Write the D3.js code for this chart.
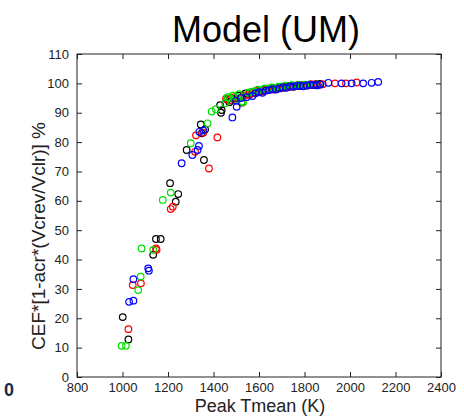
<!DOCTYPE html>
<html><head><meta charset="utf-8">
<script src="https://cdn.jsdelivr.net/npm/d3@7"></script>
<style>body{margin:0;background:#fff}svg{display:block}text{font-family:"Liberation Sans",Arial,sans-serif}</style>
</head><body><svg id="c" width="464" height="418"></svg>
<script>
const xTicks=[800,1000,1200,1400,1600,1800,2000,2200,2400];
const yTicks=[0,10,20,30,40,50,60,70,80,90,100,110];
const seriesNames=["black","red","green","blue"];
const blackPts=[[1001,20.4],[1026,12.8],[1135,41.6],[1147,47],[1168,47],[1209,66],[1234,59.7],[1245,62.3],[1282,77.3],[1344,86],[1348,83],[1358,73.9],[1363,84.3],[1429,92.6],[1433,90],[1436,90.9],[1461,94.5],[1470,93.6],[1480,95],[1495,94.8],[1510,95.8],[1525,95.2],[1540,96.6],[1558,96.2],[1575,97.2],[1588,96.9],[1600,97.8],[1615,97.4],[1630,98.1],[1645,97.9],[1660,98.4],[1675,98.2],[1690,98.8],[1705,98.5],[1715,99.0],[1728,98.8],[1740,99.2],[1755,99.0],[1770,99.3],[1785,99.1],[1800,99.5],[1812,99.3],[1825,99.6],[1838,99.4],[1850,99.7],[1868,99.8]];
const redPts=[[1026,16.3],[1045,31.3],[1081,31.9],[1150,43.3],[1147,43.8],[1212,57.2],[1221,58],[1319,76.7],[1323,82.3],[1355,83.2],[1380,71],[1417,81.6],[1455,94.8],[1470,94.2],[1490,95.2],[1523,93.4],[1535,95.8],[1545,96],[1565,96.5],[1578,97.0],[1590,97.4],[1605,97.1],[1620,97.5],[1635,98.0],[1650,98.2],[1665,97.9],[1680,98.5],[1695,98.3],[1710,98.6],[1722,99.1],[1735,99],[1750,98.8],[1765,99.2],[1778,99.5],[1790,99.4],[1815,99.3],[1828,99.7],[1840,99.6],[1860,99.4],[1880,99.7],[1934,100],[1982,100],[2029,100.3]];
const greenPts=[[996,10.6],[1015,10.6],[1069,29.6],[1080,34.2],[1084,43.8],[1135,43.3],[1177,60.3],[1212,62.8],[1300,79.6],[1374,86.4],[1392,90.4],[1410,91.2],[1451,93.2],[1462,95.3],[1470,95],[1485,95.8],[1500,95.5],[1512,96.3],[1524,93.8],[1530,93.5],[1553,96.8],[1565,97.1],[1580,97.3],[1595,97.9],[1610,97.8],[1625,98.3],[1640,98.2],[1655,98.6],[1670,98.4],[1685,98.9],[1700,98.9],[1715,99.2],[1730,99],[1745,99.4],[1760,99.2],[1775,99.5],[1790,99.3],[1805,99.6],[1820,99.5]];
const bluePts=[[1029,25.6],[1048,26],[1048,33.3],[1113,37],[1116,36.2],[1260,72.8],[1307,75.6],[1330,77.3],[1336,78.7],[1338,83.5],[1355,84],[1483,88.4],[1499,94.1],[1502,92],[1520,95.0],[1545,95.3],[1571,95.7],[1585,96.6],[1600,97],[1615,96.8],[1630,97.5],[1645,97.7],[1660,98.0],[1675,97.9],[1690,98.3],[1705,98.6],[1720,98.5],[1735,98.9],[1750,98.9],[1765,99.1],[1780,99.2],[1795,99.0],[1810,99.3],[1825,99.5],[1840,99.5],[1855,99.3],[1870,99.6],[1905,100.2],[1963,100],[2007,100],[2058,100],[2095,100.2],[2124,100.5]];
const seriesColors=["#000000","#ff0000","#00e000","#0000ff"];
const allSeries=[blackPts,redPts,greenPts,bluePts];

const svg=d3.select("#c");
const L=77,R=441,T=54,B=377;
const x=d3.scaleLinear().domain([800,2400]).range([L,R]);
const y=d3.scaleLinear().domain([0,110]).range([B,T]);

svg.append("rect").attr("x",L).attr("y",T).attr("width",R-L).attr("height",B-T).attr("fill","#fff").attr("stroke","#222").attr("stroke-width",1);

const fmt=d3.format("d");
const gx=svg.append("g").attr("transform",`translate(0,${B})`).call(d3.axisBottom(x).tickValues(xTicks).tickFormat(fmt).tickSizeInner(-5).tickSizeOuter(0).tickPadding(6));
const gxt=svg.append("g").attr("transform",`translate(0,${T})`).call(d3.axisTop(x).tickValues(xTicks).tickFormat("").tickSizeInner(-5).tickSizeOuter(0));
const gy=svg.append("g").attr("transform",`translate(${L},0)`).call(d3.axisLeft(y).tickValues(yTicks).tickFormat(fmt).tickSizeInner(-5).tickSizeOuter(0).tickPadding(8));
const gyr=svg.append("g").attr("transform",`translate(${R},0)`).call(d3.axisRight(y).tickValues(yTicks).tickFormat("").tickSizeInner(-5).tickSizeOuter(0));
[gx,gxt,gy,gyr].forEach(g=>{g.select(".domain").remove();g.selectAll("line").attr("stroke","#222");g.selectAll("text").attr("fill","#222").style("font-size","13px").style("font-family","'Liberation Sans',Arial,sans-serif");});

allSeries.forEach((pts,i)=>{
  svg.append("g").selectAll("circle").data(pts).join("circle")
    .attr("cx",d=>x(d[0])).attr("cy",d=>y(d[1])).attr("r",3.3)
    .attr("fill","none").attr("stroke",seriesColors[i]).attr("stroke-width",1.2);
});

svg.append("text").attr("x",266).attr("y",42).attr("text-anchor","middle").style("font-size","36px").attr("fill","#000").text("Model (UM)");
svg.append("text").attr("x",260).attr("y",412).attr("text-anchor","middle").style("font-size","18px").attr("fill","#222").text("Peak Tmean (K)");
svg.append("text").attr("transform","translate(45,236) rotate(-90)").attr("text-anchor","middle").style("font-size","19px").attr("fill","#222").text("CEF*[1-acr*(Vcrev/Vclr)] %");
svg.append("text").attr("x",4).attr("y",396).style("font-size","18px").style("font-weight","bold").attr("fill","#1a2a4a").text("0");
</script></body></html>
